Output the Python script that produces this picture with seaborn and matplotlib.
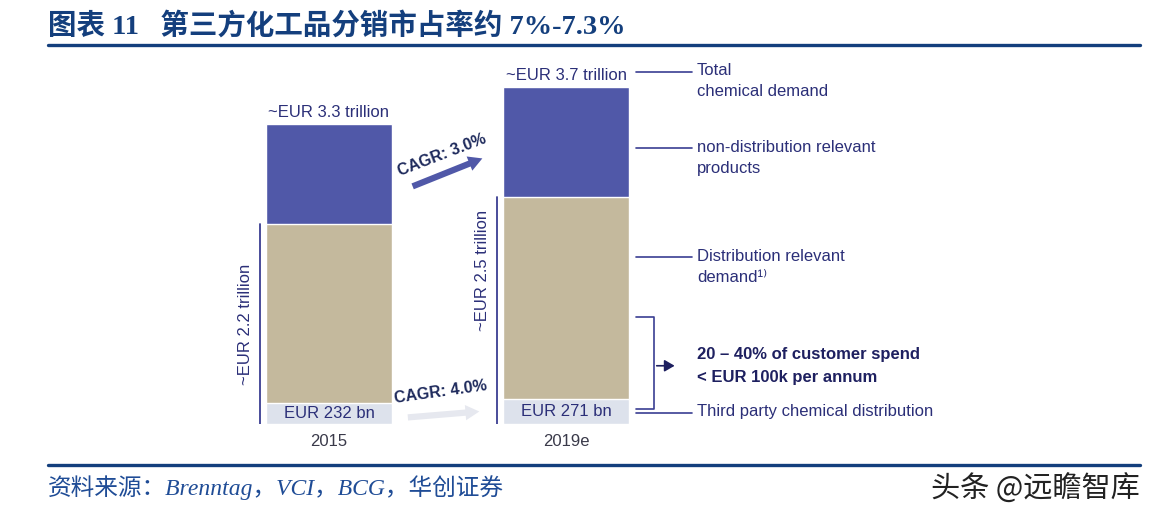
import matplotlib
matplotlib.use('Agg')
import matplotlib.pyplot as plt
from matplotlib.lines import Line2D
import seaborn as sns
import pandas as pd

# values in EUR trillion
years = ['2015', '2019e']
total_demand = [3.3, 3.7]
distribution_relevant = [2.2, 2.5]
third_party = [0.232, 0.271]

total_labels = ['~EUR 3.3 trillion', '~EUR 3.7 trillion']
dist_labels = ['~EUR 2.2 trillion', '~EUR 2.5 trillion']
third_labels = ['EUR 232 bn', 'EUR 271 bn']
cagr_labels = ['CAGR: 3.0%', 'CAGR: 4.0%']
side_labels = ['Total\nchemical demand',
               'non-distribution relevant\nproducts',
               'Distribution relevant\ndemand\u00b9\u207e',
               'Third party chemical distribution']
spend_labels = ['20 \u2013 40% of customer spend', '< EUR 100k per annum']

BLUE = '#5058A8'
TAN = '#C4B99D'
LIGHT = '#DDE2EC'
NAVY = '#2B2F78'
LINE = '#3A3E92'
HEAD = '#143F7D'

sns.set_style('white')
plt.rcParams['font.family'] = ['Liberation Sans', 'DejaVu Sans', 'Noto Sans CJK SC']

df = pd.DataFrame({'year': years, 'total': total_demand,
                   'dist': distribution_relevant, 'third': third_party})

fig = plt.figure(figsize=(11.54, 5.23), dpi=100)
W, H = 1154, 523
ax = fig.add_axes([92 / W, (H - 424) / H, 948 / W, 364 / H])

for col, c in [('total', BLUE), ('dist', TAN), ('third', LIGHT)]:
    sns.barplot(data=df, x='year', y=col, color=c, width=0.53, saturation=1,
                errorbar=None, ax=ax)

ax.set_xlim(-1, 3)
ax.set_ylim(0, 4.0)
ax.set_xlabel('')
ax.set_ylabel('')
ax.set_yticks([])
ax.tick_params(axis='x', length=0, pad=7, labelsize=12, labelcolor='#3a3a4a')
sns.despine(ax=ax, left=True, bottom=True)

fs = 12
for i in range(len(years)):
    ax.annotate(total_labels[i], (i, total_demand[i]), xytext=(0, 3),
                textcoords='offset points', ha='center', va='bottom',
                fontsize=fs, color=NAVY)
    ax.text(i, third_party[i] / 2, third_labels[i], ha='center', va='center',
            fontsize=fs, color=NAVY)
    ax.plot([i - 0.291, i - 0.291], [0, distribution_relevant[i]],
            color=LINE, lw=1.3)

ax.text(-0.352, 1.1, dist_labels[0], rotation=90, ha='center', va='center',
        fontsize=fs, color=NAVY)
ax.text(1 - 0.352, 1.69, dist_labels[1], rotation=90, ha='center', va='center',
        fontsize=fs, color=NAVY)

# CAGR arrows
ax.annotate('', xy=(0.658, 2.93), xytext=(0.342, 2.60),
            arrowprops=dict(arrowstyle='simple,head_width=1.1,head_length=1.0,tail_width=0.45',
                            color=BLUE, lw=0, mutation_scale=10))
ax.text(0.477, 2.96, cagr_labels[0], rotation=21, rotation_mode='anchor',
        ha='center', va='center', fontsize=11.5, fontweight='bold', color='#1E2A5C')
ax.annotate('', xy=(0.646, 0.14), xytext=(0.321, 0.07),
            arrowprops=dict(arrowstyle='simple,head_width=1.1,head_length=1.0,tail_width=0.45',
                            color='#E6E8EF', lw=0, mutation_scale=10))
ax.text(0.473, 0.35, cagr_labels[1], rotation=8, rotation_mode='anchor',
        ha='center', va='center', fontsize=11.5, fontweight='bold', color='#1E2A5C')

# right side annotation lines
x0, x1, xt = 1.295, 1.532, 1.553
side_y = [3.87, 3.03, 1.83, 0.12]
for y, lab in zip(side_y, side_labels):
    ax.plot([x0, x1], [y, y], color=LINE, lw=1.2)
    ax.text(xt, y + 0.095, lab, ha='left', va='top', fontsize=fs,
            color=NAVY, linespacing=1.5)

# bracket with arrow
xb = 1.371
ax.plot([x0, xb, xb, x0], [1.176, 1.176, 0.165, 0.165], color=LINE, lw=1.2)
ax.annotate('', xy=(1.47, 0.64), xytext=(xb, 0.64),
            arrowprops=dict(arrowstyle='-|>,head_width=0.35,head_length=0.6',
                            color='#1E2060', lw=1.2))
ax.text(xt, 0.765, spend_labels[0], ha='left', va='center', fontsize=fs,
        fontweight='bold', color='#1E2060')
ax.text(xt, 0.51, spend_labels[1], ha='left', va='center', fontsize=fs,
        fontweight='bold', color='#1E2060')

# header / footer
fig.text(48 / W, 1 - 26 / H, '图表 11   第三方化工品分销市占率约 7%-7.3%',
         fontsize=20.5, fontweight='bold', color=HEAD, va='center',
         family=['Liberation Serif', 'Noto Sans CJK SC'])
fig.add_artist(Line2D([48 / W, 1140 / W], [1 - 45 / H] * 2, lw=2.4, color=HEAD))
fig.add_artist(Line2D([48 / W, 1140 / W], [1 - 465 / H] * 2, lw=2.4, color=HEAD))
fig.text(48 / W, 1 - 488 / H, '资料来源：Brenntag，VCI，BCG，华创证券',
         fontsize=17, style='italic', color='#1F4C96', va='center',
         family=['Liberation Serif', 'Noto Sans CJK SC'])
fig.text(1140 / W, 1 - 490 / H, '头条 @远瞻智库', fontsize=21, color='#222222',
         ha='right', va='center', family=['Noto Sans CJK SC', 'DejaVu Sans'])

fig.savefig('out.png', dpi=100, facecolor='white')
